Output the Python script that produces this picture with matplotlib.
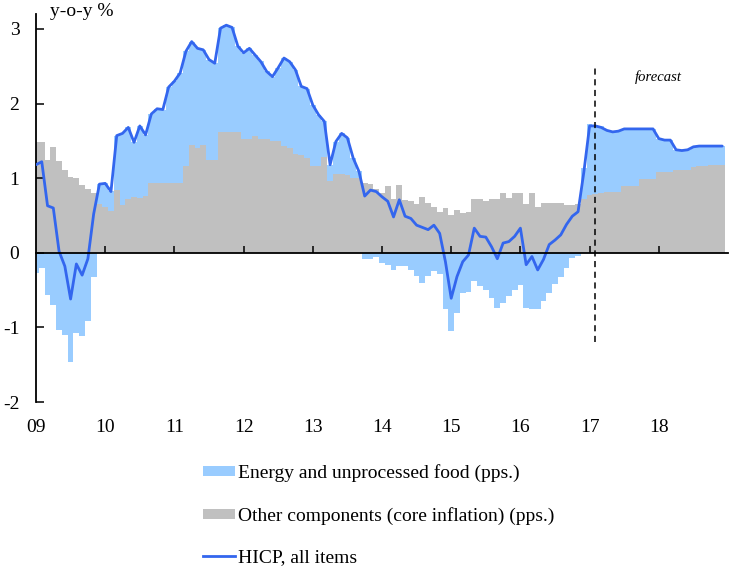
import numpy as np
import matplotlib
matplotlib.use("Agg")
import matplotlib.pyplot as plt
from matplotlib.patches import Patch
from matplotlib.lines import Line2D

plt.rcParams['font.family'] = ['Liberation Serif', 'DejaVu Serif']
plt.rcParams['axes.unicode_minus'] = False

# Monthly data Jan 2009 - Dec 2018
core = [
    1.49, 1.49, 1.25, 1.42, 1.23, 1.11, 1.02, 1.00, 0.91, 0.86, 0.80, 0.66,
    0.62, 0.56, 0.84, 0.64, 0.72, 0.75, 0.73, 0.76, 0.93, 0.93, 0.93, 0.93,
    0.93, 0.93, 1.16, 1.45, 1.40, 1.44, 1.25, 1.25, 1.62, 1.62, 1.62, 1.62,
    1.52, 1.53, 1.56, 1.52, 1.52, 1.50, 1.50, 1.43, 1.40, 1.33, 1.31, 1.27,
    1.16, 1.16, 1.29, 0.96, 1.06, 1.05, 1.04, 1.00, 1.00, 0.93, 0.92, 0.85,
    0.80, 0.89, 0.72, 0.91, 0.71, 0.69, 0.66, 0.75, 0.67, 0.62, 0.55, 0.60,
    0.50, 0.57, 0.53, 0.55, 0.72, 0.72, 0.70, 0.72, 0.72, 0.80, 0.73, 0.80,
    0.80, 0.66, 0.80, 0.62, 0.67, 0.67, 0.67, 0.67, 0.64, 0.64, 0.66, 0.72,
    0.78, 0.79, 0.80, 0.81, 0.81, 0.81, 0.90, 0.90, 0.90, 0.99, 0.99, 0.99,
    1.08, 1.08, 1.08, 1.11, 1.11, 1.11, 1.15, 1.16, 1.16, 1.18, 1.18, 1.18,
]
energy = [
    -0.27, -0.20, -0.56, -0.70, -1.03, -1.10, -1.46, -1.07, -1.12, -0.92, -0.32, 0.26,
    0.31, 0.27, 0.73, 0.96, 0.96, 0.73, 0.97, 0.82, 0.93, 1.00, 0.99, 1.29,
    1.37, 1.48, 1.54, 1.38, 1.34, 1.28, 1.34, 1.29, 1.39, 1.43, 1.40, 1.15,
    1.16, 1.21, 1.09, 1.05, 0.91, 0.86, 0.98, 1.18, 1.16, 1.12, 0.92, 0.93,
    0.82, 0.69, 0.47, 0.22, 0.43, 0.55, 0.50, 0.27, 0.09, -0.09, -0.08, -0.05,
    -0.14, -0.16, -0.23, -0.18, -0.18, -0.23, -0.31, -0.41, -0.31, -0.25, -0.29, -0.76,
    -1.05, -0.81, -0.54, -0.52, -0.38, -0.45, -0.50, -0.61, -0.74, -0.67, -0.58, -0.50,
    -0.43, -0.74, -0.76, -0.76, -0.65, -0.54, -0.42, -0.32, -0.20, -0.07, -0.04, 0.41,
    0.94, 0.92, 0.90, 0.83, 0.81, 0.82, 0.76, 0.76, 0.76, 0.67, 0.67, 0.67,
    0.45, 0.43, 0.43, 0.27, 0.26, 0.27, 0.27, 0.27, 0.27, 0.25, 0.25, 0.25,
]
hicp = [
    1.18, 1.22, 0.63, 0.60, 0.02, -0.18, -0.62, -0.15, -0.30, -0.08, 0.52, 0.92,
    0.93, 0.82, 1.57, 1.60, 1.68, 1.48, 1.70, 1.58, 1.86, 1.93, 1.92, 2.22,
    2.30, 2.41, 2.70, 2.83, 2.74, 2.72, 2.59, 2.54, 3.01, 3.05, 3.02, 2.77,
    2.68, 2.74, 2.65, 2.56, 2.43, 2.36, 2.48, 2.61, 2.56, 2.45, 2.23, 2.20,
    1.98, 1.85, 1.76, 1.18, 1.49, 1.60, 1.54, 1.27, 1.09, 0.76, 0.84, 0.82,
    0.75, 0.69, 0.48, 0.71, 0.49, 0.46, 0.37, 0.34, 0.31, 0.37, 0.26, -0.12,
    -0.61, -0.32, -0.12, -0.03, 0.33, 0.22, 0.21, 0.08, -0.08, 0.13, 0.15, 0.22,
    0.33, -0.16, -0.05, -0.23, -0.09, 0.11, 0.17, 0.24, 0.38, 0.49, 0.55, 1.08,
    1.70, 1.70, 1.68, 1.64, 1.62, 1.63, 1.66, 1.66, 1.66, 1.66, 1.66, 1.66,
    1.53, 1.51, 1.51, 1.38, 1.37, 1.38, 1.42, 1.43, 1.43, 1.43, 1.43, 1.43,
]
year_ticks = [2009, 2010, 2011, 2012, 2013, 2014, 2015, 2016, 2017, 2018]
year_labels = ["09", "10", "11", "12", "13", "14", "15", "16", "17", "18"]
y_ticks = [-2, -1, 0, 1, 2, 3]
forecast_start = 2017 + 1 / 12

labels = ["Energy and unprocessed food (pps.)",
          "Other components (core inflation) (pps.)",
          "HICP, all items"]

BLUE_BAR = '#99CCFF'
GRAY_BAR = '#C0C0C0'
LINE_C = '#3366EE'

core = np.array(core)
energy = np.array(energy)
hicp = np.array(hicp)
t = 2009 + np.arange(len(core)) / 12.0

fig = plt.figure(figsize=(7.29, 5.66), dpi=100)
ax = fig.add_axes([36 / 729, 1 - 402 / 566, 692 / 729, 388 / 566])

w = 1 / 12
ax.bar(t, core, width=w, color=GRAY_BAR, edgecolor='none', linewidth=0, zorder=1)
ebottom = np.where(energy >= 0, core, 0.0)
ax.bar(t, energy, width=w, bottom=ebottom, color=BLUE_BAR, edgecolor='none', linewidth=0, zorder=1)
ax.plot(t, hicp, color=LINE_C, lw=2.0, zorder=3, solid_joinstyle='round', solid_capstyle='round')

ax.axvline(forecast_start, ymin=(-1.19 + 2) / 5.2, ymax=(2.48 + 2) / 5.2,
           color='black', lw=1.1, ls=(0, (4, 3)), zorder=4)
ax.text(2018, 2.36, "forecast", style='italic', fontsize=10.5, ha='center', va='center')

ax.set_xlim(2009, 2019)
ax.set_ylim(-2, 3.2)

for s in ['top', 'right']:
    ax.spines[s].set_visible(False)
ax.spines['bottom'].set_position(('data', 0))
ax.spines['bottom'].set_linewidth(1.3)
ax.spines['left'].set_linewidth(1.3)
ax.spines['bottom'].set_zorder(5)

ax.set_xticks(year_ticks[1:])
ax.tick_params(axis='x', direction='in', length=5, width=1.1, labelbottom=False)
ax.set_yticks(y_ticks)
ax.set_yticklabels([str(v) for v in y_ticks])
ax.tick_params(axis='y', direction='in', length=6, width=1.1, pad=12, labelsize=14)

sec = ax.secondary_xaxis(0.0)
sec.set_xticks(year_ticks)
sec.set_xticklabels(year_labels)
sec.tick_params(length=0, pad=12, labelsize=14)
sec.spines['bottom'].set_visible(False)

fig.text(50 / 729, 1 - 11 / 566, "y-o-y %", fontsize=14, ha='left', va='center')

handles = [Patch(facecolor=BLUE_BAR, edgecolor='none'),
           Patch(facecolor=GRAY_BAR, edgecolor='none'),
           Line2D([0], [0], color=LINE_C, lw=2.0)]
fig.legend(handles, labels, loc='upper left', bbox_to_anchor=(203 / 729, 1 - 464 / 566),
           frameon=False, fontsize=14, handlelength=1.65, handleheight=0.42,
           handletextpad=0.15, labelspacing=1.27, borderpad=0, borderaxespad=0)

fig.savefig("out.png", dpi=100)
